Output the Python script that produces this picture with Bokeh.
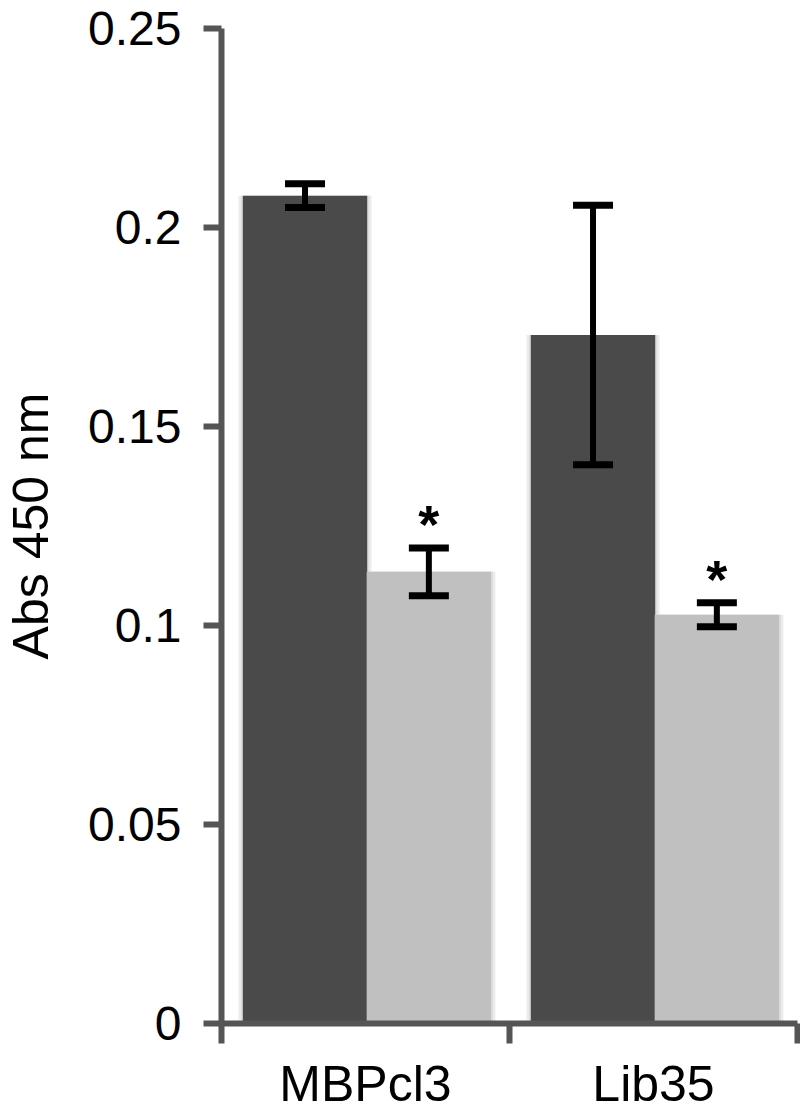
from bokeh.plotting import figure
from bokeh.models import ColumnDataSource, FixedTicker, Whisker, TeeHead, Range1d
from bokeh.core.properties import value
from bokeh.embed import file_html
from bokeh.resources import INLINE

categories = ["MBPcl3", "Lib35"]
control_means = [0.208, 0.173]
control_errs = [0.003, 0.0326]
treated_means = [0.1135, 0.1027]
treated_errs = [0.006, 0.003]
significant = ["*", "*"]
y_ticks = [0, 0.05, 0.1, 0.15, 0.2, 0.25]
y_tick_labels = ["0", "0.05", "0.1", "0.15", "0.2", "0.25"]

FONT = "Liberation Sans"
BAR_W = 0.432
OFF_DARK = 0.29
OFF_LIGHT = 0.72

idx = list(range(len(categories)))
dark = ColumnDataSource(dict(
    x=[i + OFF_DARK for i in idx], top=control_means,
    upper=[m + e for m, e in zip(control_means, control_errs)],
    lower=[m - e for m, e in zip(control_means, control_errs)]))
light = ColumnDataSource(dict(
    x=[i + OFF_LIGHT for i in idx], top=treated_means,
    upper=[m + e for m, e in zip(treated_means, treated_errs)],
    lower=[m - e for m, e in zip(treated_means, treated_errs)],
    star=significant))

p = figure(width=800, height=1114, output_backend="svg", toolbar_location=None,
           x_range=Range1d(0, len(categories)), y_range=Range1d(0, 0.25),
           min_border_left=216, min_border_right=3, min_border_top=28, min_border_bottom=88)
p.outline_line_color = None
p.grid.grid_line_color = None
p.background_fill_color = "white"

# soft shadows
for src in (dark, light):
    p.vbar(x="x", top="top", width=BAR_W + 0.03, bottom=0, source=src,
           fill_color="#ececec", line_color=None)
    p.vbar(x="x", top="top", width=BAR_W + 0.014, bottom=0, source=src,
           fill_color="#dedede", line_color=None)

p.vbar(x="x", top="top", width=BAR_W, source=dark, fill_color="#4a4a4a", line_color=None)
p.vbar(x="x", top="top", width=BAR_W, source=light, fill_color="#c0c0c0", line_color=None)

for src in (dark, light):
    w = Whisker(base="x", upper="upper", lower="lower", source=src, level="overlay",
                line_color="black", line_width=6,
                upper_head=TeeHead(size=40, line_width=7, line_color="black"),
                lower_head=TeeHead(size=40, line_width=7, line_color="black"))
    p.add_layout(w)

p.text(x="x", y="upper", text="star", source=light, text_align="center",
       text_baseline="alphabetic", y_offset=-24, text_font=value(FONT),
       text_font_size="54px", text_font_style="bold", text_color="black")

# y axis
ya = p.yaxis[0]
ya.ticker = FixedTicker(ticks=y_ticks)
ya.major_label_overrides = {t: l for t, l in zip(y_ticks, y_tick_labels)}
ya.axis_label = "Abs 450 nm"
ya.axis_label_text_font = FONT
ya.axis_label_text_font_size = "50px"
ya.axis_label_text_font_style = "normal"
ya.axis_label_text_color = "black"
ya.axis_label_standoff = 26
ya.major_label_text_font = FONT
ya.major_label_text_font_size = "48px"
ya.major_label_text_color = "black"
ya.major_label_standoff = 22
ya.axis_line_color = "#555555"
ya.axis_line_width = 6
ya.major_tick_line_color = "#555555"
ya.major_tick_line_width = 6
ya.major_tick_out = 18
ya.major_tick_in = 0
ya.minor_tick_line_color = None

# x axis: labels at category centers, tick marks at boundaries
xa = p.xaxis[0]
xa.ticker = FixedTicker(ticks=[i + 0.5 for i in idx], minor_ticks=list(range(len(categories) + 1)))
xa.major_label_overrides = {i + 0.5: c for i, c in zip(idx, categories)}
xa.major_label_text_font = FONT
xa.major_label_text_font_size = "50px"
xa.major_label_text_color = "black"
xa.major_label_standoff = 12
xa.major_tick_line_color = None
xa.major_tick_out = 20
xa.minor_tick_line_color = "#555555"
xa.minor_tick_line_width = 6
xa.minor_tick_out = 20
xa.minor_tick_in = 0
xa.axis_line_color = "#555555"
xa.axis_line_width = 6

open("out.html", "w").write(file_html(p, INLINE))
